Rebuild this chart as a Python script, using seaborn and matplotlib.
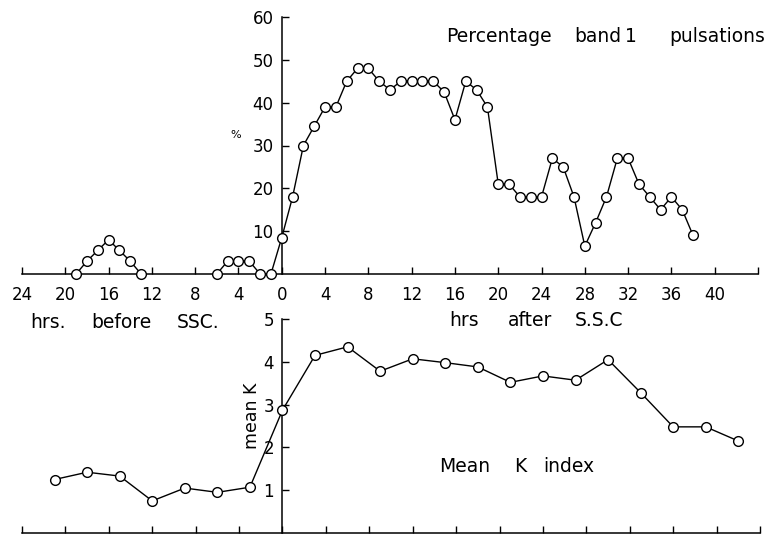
import matplotlib
matplotlib.use("Agg")
import matplotlib.pyplot as plt
import seaborn as sns
import numpy as np
import pandas as pd

# ---- data ----
pulse_hours_a = [-19, -18, -17, -16, -15, -14, -13]
pulse_vals_a = [0, 3, 5.5, 8, 5.5, 3, 0]
pulse_hours_b = list(range(-6, 39))
pulse_vals_b = [0, 3, 3, 3, 0, 0, 8.5,
                18, 30, 34.5, 39, 39, 45, 48, 48, 45, 43,
                45, 45, 45, 45, 42.5, 36, 45, 43, 39, 21,
                21, 18, 18, 18, 27, 25, 18, 6.5, 12, 18,
                27, 27, 21, 18, 15, 18, 15, 9]
k_hours = [-21, -18, -15, -12, -9, -6, -3, 0, 3, 6, 9, 12, 15, 18, 21, 24, 27, 30, 33, 36, 39, 42]
k_vals = [1.25, 1.42, 1.33, 0.75, 1.05, 0.95, 1.07, 2.87, 4.15, 4.35, 3.78, 4.07,
          3.98, 3.88, 3.52, 3.67, 3.57, 4.05, 3.28, 2.48, 2.48, 2.15]
x_ticks = list(range(-24, 45, 4))
x_tick_labels = [str(abs(t)) for t in x_ticks[:-1]] + [""]
pct_ticks = [10, 20, 30, 40, 50, 60]
k_ticks = [1, 2, 3, 4, 5]

sns.set_style("white")
plt.rcParams['font.family'] = ['DejaVu Sans']
plt.rcParams['text.color'] = 'black'
plt.rcParams['xtick.color'] = 'black'
plt.rcParams['ytick.color'] = 'black'

W, H = 777, 535
fig = plt.figure(figsize=(W / 100, H / 100), dpi=100)
fig.patch.set_facecolor("white")

def px_axes(x0, x1, y_top, y_bot):
    return fig.add_axes([x0 / W, 1 - y_bot / H, (x1 - x0) / W, (y_bot - y_top) / H])

ax1 = px_axes(22, 758, 17, 274)
ax2 = px_axes(22, 760, 319, 533)

df_p = pd.DataFrame({
    "hour": pulse_hours_a + pulse_hours_b,
    "pct": pulse_vals_a + pulse_vals_b,
    "seg": ["a"] * len(pulse_hours_a) + ["b"] * len(pulse_hours_b),
})
df_k = pd.DataFrame({"hour": k_hours, "k": k_vals})

mk = dict(marker="o", markersize=7, markerfacecolor="white", markeredgecolor="black",
          markeredgewidth=1.0, color="black", linewidth=1.0)

sns.lineplot(data=df_p, x="hour", y="pct", units="seg", estimator=None, ax=ax1,
             clip_on=False, zorder=3, **mk)
sns.lineplot(data=df_k, x="hour", y="k", estimator=None, ax=ax2, clip_on=False,
             zorder=3, **mk)

for ax in (ax1, ax2):
    ax.set_facecolor("none")
    ax.set_xlim(-24, 44)
    ax.spines['top'].set_visible(False)
    ax.spines['right'].set_visible(False)
    ax.spines['left'].set_position(('data', 0))
    for s in ('left', 'bottom'):
        ax.spines[s].set_linewidth(1.1)
        ax.spines[s].set_color("black")
    ax.set_xlabel("")
    ax.set_ylabel("")
    ax.set_xticks(x_ticks)
    ax.tick_params(axis='x', bottom=True, direction='in', length=5, width=1, color='black')
    ax.tick_params(axis='y', left=True, direction='in', length=5, width=1, color='black',
                   labelsize=12, pad=6)

ax1.set_ylim(0, 60)
ax1.set_yticks(pct_ticks)
ax1.set_xticklabels(x_tick_labels, fontsize=12)
ax1.tick_params(axis='x', pad=9)

ax2.set_ylim(0, 5)
ax2.set_yticks(k_ticks)
ax2.set_xticklabels([])

def ftext(x, y, s, **kw):
    fig.text(x / W, 1 - y / H, s, **kw)

def words(spans, y, size=13.5):
    # spans: list of (text, left_px, right_px)
    for s, x0, x1 in spans:
        ftext((x0 + x1) / 2, y, s, fontsize=size, ha="center", va="center")

words([("Percentage", 440, 558), ("band", 578, 618), ("1", 628, 633),
       ("pulsations", 667, 767)], 36)
ftext(236, 135, "%", fontsize=8, ha="center", va="center")
words([("hrs.", 32, 63), ("before", 86, 157), ("SSC.", 175, 222)], 322)
words([("hrs", 448, 480), ("after", 503, 557), ("S.S.C", 573, 625)], 320)
ftext(252, 416, "mean K", fontsize=12.5, ha="center", va="center", rotation=90)
words([("Mean", 437, 492), ("K", 517, 523), ("index", 538, 600)], 467)

fig.savefig("out.png", dpi=100, facecolor="white")
